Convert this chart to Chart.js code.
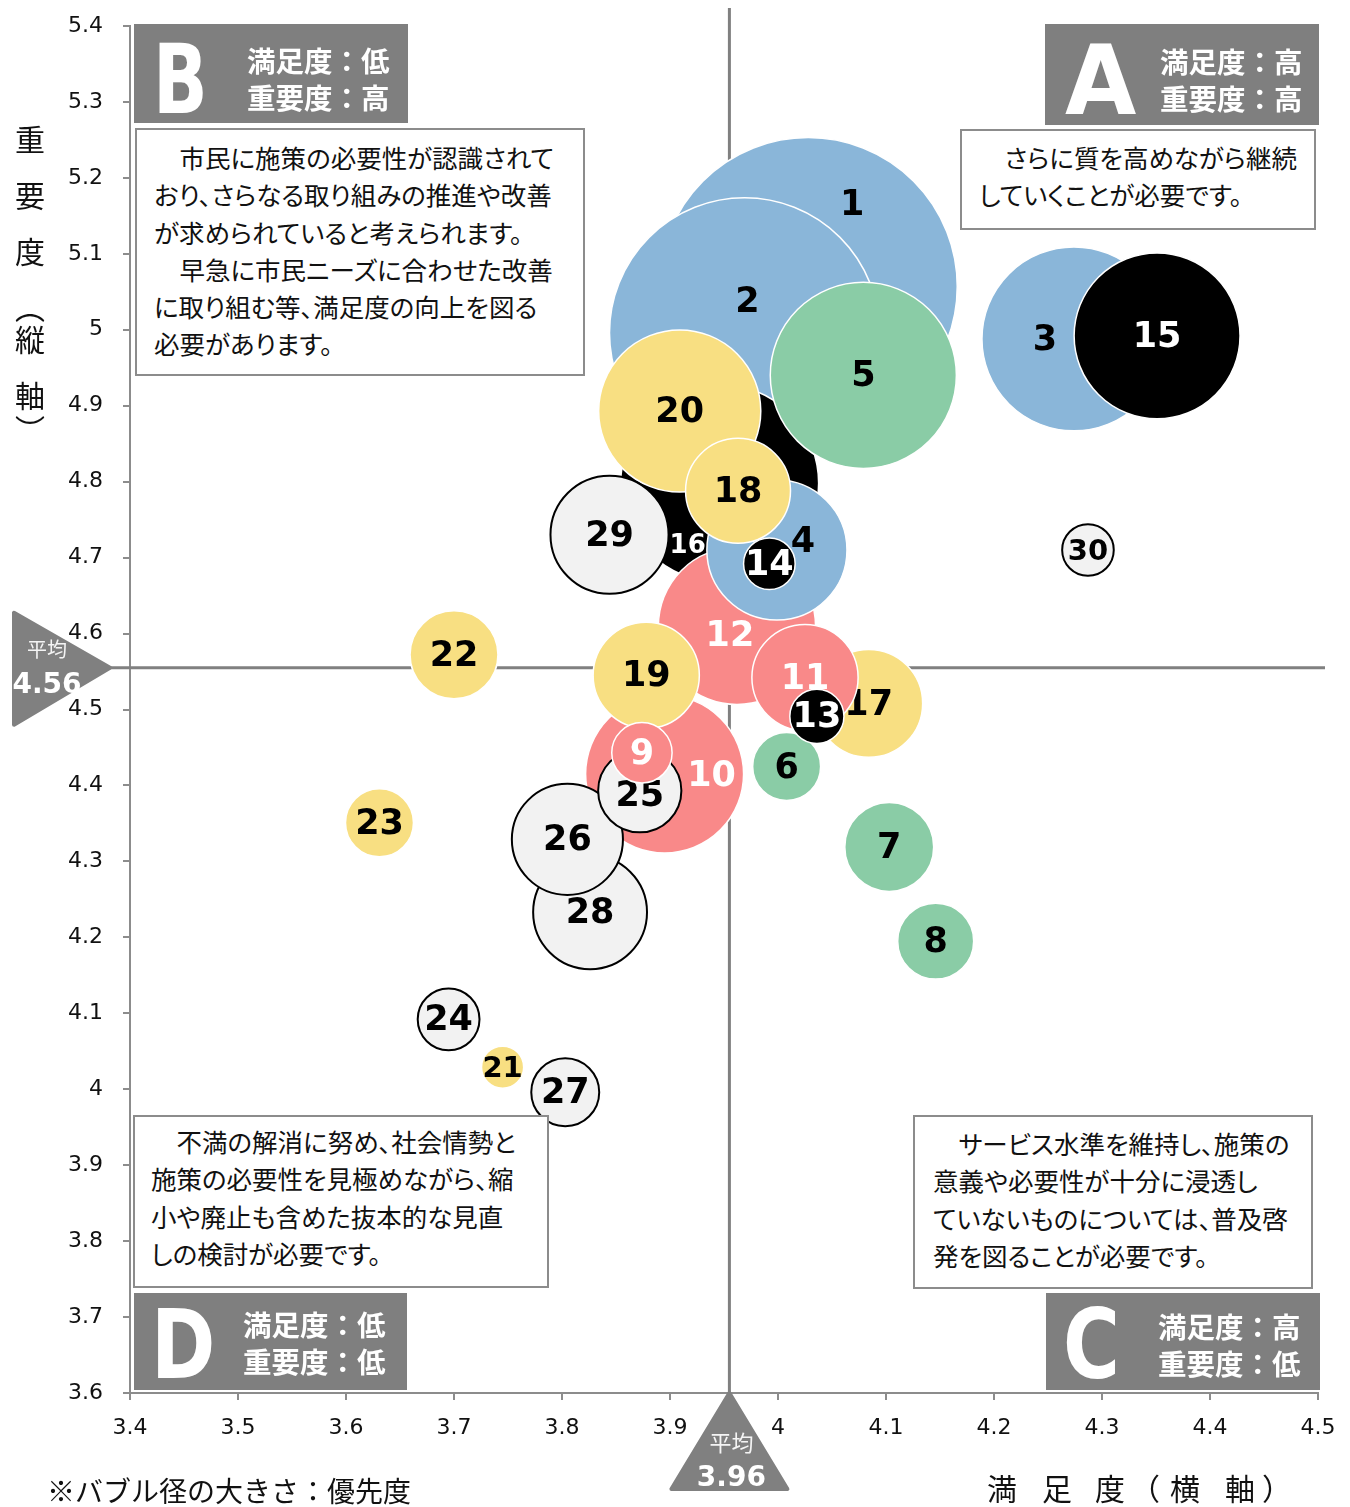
<!DOCTYPE html>
<html lang="ja">
<head>
<meta charset="utf-8">
<title>満足度・重要度バブルチャート</title>
<script src="https://cdn.jsdelivr.net/npm/chart.js@4.4.1/dist/chart.umd.min.js"></script>
<style>
  html, body { margin: 0; padding: 0; background: #fff; }
  #wrap { position: relative; width: 1350px; height: 1507px; overflow: hidden; }
  #chart { position: absolute; left: 0; top: 0; }
  .hdr { position: absolute; background: #7f7f7f; color: #fff; box-sizing: border-box; }
  .hdr .big { position: absolute; font: bold 97px "DejaVu Sans"; line-height: 1; transform-origin: left top; }
  .hdr .lines { position: absolute; font: bold 28.5px "Noto Sans CJK JP"; line-height: 36.5px; white-space: pre; }
  .note { position: absolute; box-sizing: border-box; background: #fff; border: 2px solid #8c8c8c;
          font: 25.5px "Noto Sans CJK JP"; line-height: 37.3px; white-space: pre; color: #111;
          font-feature-settings: "palt"; }
  .ttl { position: absolute; font: 30px "Noto Sans CJK JP"; color: #111; line-height: 1; }
  .foot { position: absolute; left: 47px; top: 1476px; font: 28px "Noto Sans CJK JP"; color: #111; line-height: 1; }
</style>
</head>
<body>
<div id="wrap">
  <canvas id="chart" width="1350" height="1507"></canvas>

  <!-- quadrant headers -->
  <div class="hdr" style="left:134px;top:24px;width:274px;height:99px">
    <div class="big" style="left:19px;top:7px;transform:scaleX(0.74)">B</div>
    <div class="lines" style="left:113px;top:18px">満足度：低
重要度：高</div>
  </div>
  <div class="hdr" style="left:1045px;top:24px;width:274px;height:101px">
    <div class="big" style="left:20px;top:8px;transform:scaleX(0.95)">A</div>
    <div class="lines" style="left:115px;top:19px">満足度：高
重要度：高</div>
  </div>
  <div class="hdr" style="left:134px;top:1293px;width:273px;height:97px">
    <div class="big" style="left:17px;top:3px;transform:scaleX(0.8)">D</div>
    <div class="lines" style="left:109px;top:13px">満足度：低
重要度：低</div>
  </div>
  <div class="hdr" style="left:1046px;top:1293px;width:274px;height:97px">
    <div class="big" style="left:17px;top:3px;transform:scaleX(0.8)">C</div>
    <div class="lines" style="left:112px;top:15px">満足度：高
重要度：低</div>
  </div>

  <!-- quadrant comments -->
  <div class="note" style="left:135px;top:128px;width:450px;height:248px;padding:8px 0 0 17px">　市民に施策の必要性が認識されて
おり、さらなる取り組みの推進や改善
が求められていると考えられます。
　早急に市民ニーズに合わせた改善
に取り組む等、満足度の向上を図る
必要があります。</div>
  <div class="note" style="left:960px;top:129px;width:356px;height:101px;padding:7px 0 0 17px">　さらに質を高めながら継続
していくことが必要です。</div>
  <div class="note" style="left:133px;top:1115px;width:416px;height:173px;padding:5px 0 0 16px">　不満の解消に努め、社会情勢と
施策の必要性を見極めながら、縮
小や廃止も含めた抜本的な見直
しの検討が必要です。</div>
  <div class="note" style="left:913px;top:1115px;width:400px;height:174px;padding:7px 0 0 18px">　サービス水準を維持し、施策の
意義や必要性が十分に浸透し
ていないものについては、普及啓
発を図ることが必要です。</div>

  <!-- axis titles -->
  <div class="ttl" style="left:15px;top:123px">重</div>
  <div class="ttl" style="left:15px;top:179px">要</div>
  <div class="ttl" style="left:15px;top:235px">度</div>
  <div class="ttl" style="left:15px;top:291px">︵</div>
  <div class="ttl" style="left:15px;top:323px">縦</div>
  <div class="ttl" style="left:15px;top:379px">軸</div>
  <div class="ttl" style="left:15px;top:413px">︶</div>

  <div class="ttl" style="left:987px;top:1472px">満</div>
  <div class="ttl" style="left:1042px;top:1472px">足</div>
  <div class="ttl" style="left:1095px;top:1472px">度</div>
  <div class="ttl" style="left:1130px;top:1472px">（</div>
  <div class="ttl" style="left:1170px;top:1472px">横</div>
  <div class="ttl" style="left:1225px;top:1472px">軸</div>
  <div class="ttl" style="left:1262px;top:1472px">）</div>

  <div class="foot">※バブル径の大きさ：優先度</div>
</div>

<script>
// 施策番号・満足度（横軸）・重要度（縦軸）・優先度（バブル径）
const ids = [1, 2, 3, 4, 5, 6, 7, 8, 9, 10, 11, 12, 13, 14, 15,
             16, 17, 18, 19, 20, 21, 22, 23, 24, 25, 26, 27, 28, 29, 30];
const satisfaction = [4.028, 3.969, 4.274, 3.999, 4.079, 4.008, 4.103, 4.146, 3.874, 3.895,
                      4.025, 3.962, 4.036, 3.992, 4.351, 3.946, 4.084, 3.963, 3.878, 3.909,
                      3.745, 3.700, 3.631, 3.695, 3.872, 3.805, 3.803, 3.826, 3.844, 4.287];
const importance = [5.057, 4.996, 4.988, 4.710, 4.940, 4.425, 4.319, 4.195, 4.443, 4.415,
                    4.542, 4.610, 4.491, 4.692, 4.992, 4.798, 4.508, 4.788, 4.545, 4.893,
                    4.029, 4.572, 4.351, 4.092, 4.393, 4.329, 3.996, 4.233, 4.730, 4.710];
const priority = [100, 82.1, 38.1, 22.1, 39.0, 5.2, 8.9, 6.5, 4.1, 28.1,
                  12.7, 27.8, 3.3, 3.0, 31.0, 44.1, 13.1, 12.4, 12.7, 29.6,
                  2.0, 8.7, 5.2, 4.3, 7.8, 13.9, 5.2, 14.6, 15.7, 3.0];
const groups = ['blue', 'blue', 'blue', 'blue', 'green', 'green', 'green', 'green',
                'red', 'red', 'red', 'red', 'black', 'black', 'black', 'black',
                'yellow', 'yellow', 'yellow', 'yellow', 'yellow', 'yellow', 'yellow',
                'grey', 'grey', 'grey', 'grey', 'grey', 'grey', 'grey'];

// 平均値
const AVG_X = 3.955;
const AVG_Y = 4.555;

const X_MIN = 3.4, X_MAX = 4.5, Y_MIN = 3.6, Y_MAX = 5.4, STEP = 0.1;

// group styles
const fills = { blue: '#8ab6d9', green: '#8acca6', red: '#f98989', black: '#000000', yellow: '#f8df82', grey: '#f2f2f2' };
const edges = { blue: '#ffffff', green: '#ffffff', red: '#ffffff', black: '#ffffff', yellow: '#ffffff', grey: '#000000' };
const textColors = { blue: '#000', green: '#000', red: '#fff', black: '#fff', yellow: '#000', grey: '#000' };

// labels nudged off centre where other bubbles sit on top
const labelShift = { 1: [44, -83], 2: [3, -32], 3: [-29, 0], 4: [26, -9], 10: [47, 1],
                     12: [-7, 9], 16: [-32, 61], 25: [0, 4] };
const labelSize = { 16: 26, 21: 29, 30: 29 };

const MAX_R = 149;
const maxPri = Math.max(...priority);
const radiusOf = p => MAX_R * Math.sqrt(p / maxPri);

// one dataset per bubble so larger ones sit underneath (higher order = drawn first)
const datasets = ids.map((id, i) => {
  const r = radiusOf(priority[i]);
  return {
    label: String(id),
    data: [{ x: satisfaction[i], y: importance[i], r: r }],
    backgroundColor: fills[groups[i]],
    borderColor: edges[groups[i]],
    borderWidth: groups[i] === 'grey' ? 2 : 1.5,
    order: r,
    clip: false
  };
});

const fmt = v => String(Math.round(v * 10) / 10);
const fmt2 = v => (Math.round(v * 100 + 1e-6) / 100).toFixed(2);

const bubbleLabels = {
  id: 'bubbleLabels',
  afterDatasetDraw(chart, args) {
    const i = args.index;
    const id = ids[i];
    const el = args.meta.data[0];
    const sh = labelShift[id] || [0, 0];
    const ctx = chart.ctx;
    ctx.save();
    ctx.font = 'bold ' + (labelSize[id] || 35) + 'px "DejaVu Sans"';
    ctx.fillStyle = textColors[groups[i]];
    ctx.textAlign = 'center';
    ctx.textBaseline = 'middle';
    ctx.fillText(String(id), el.x + sh[0], el.y + sh[1] + 2);
    ctx.restore();
  }
};

const averageMarks = {
  id: 'averageMarks',
  beforeDatasetsDraw(chart) {
    const { ctx, chartArea, scales } = chart;
    const ax = scales.x.getPixelForValue(AVG_X);
    const ay = scales.y.getPixelForValue(AVG_Y);
    ctx.save();
    ctx.strokeStyle = '#808080';
    ctx.lineWidth = 3;
    ctx.beginPath();
    ctx.moveTo(ax, 8);
    ctx.lineTo(ax, chartArea.bottom);
    ctx.moveTo(110, ay);
    ctx.lineTo(chartArea.right + 7, ay);
    ctx.stroke();
    ctx.restore();
  },
  afterDraw(chart) {
    const { ctx, chartArea, scales } = chart;
    const ax = scales.x.getPixelForValue(AVG_X);
    const ay = scales.y.getPixelForValue(AVG_Y);
    ctx.save();
    ctx.fillStyle = '#808080';
    ctx.strokeStyle = '#808080';
    ctx.lineWidth = 4;
    ctx.lineJoin = 'round';
    // left marker (importance average)
    ctx.beginPath();
    ctx.moveTo(110, ay);
    ctx.lineTo(14, ay - 55);
    ctx.lineTo(14, ay + 57);
    ctx.closePath();
    ctx.fill();
    ctx.stroke();
    // bottom marker (satisfaction average)
    const b = chartArea.bottom;
    ctx.beginPath();
    ctx.moveTo(ax, b);
    ctx.lineTo(ax + 58, b + 96);
    ctx.lineTo(ax - 58, b + 96);
    ctx.closePath();
    ctx.fill();
    ctx.stroke();

    ctx.fillStyle = '#f4f4f4';
    ctx.textAlign = 'center';
    ctx.textBaseline = 'middle';
    ctx.font = '20px "Noto Sans CJK JP"';
    ctx.fillText('平均', 47, ay - 18);
    ctx.font = '22px "Noto Sans CJK JP"';
    ctx.fillText('平均', ax + 2, b + 50);
    ctx.fillStyle = '#ffffff';
    ctx.font = 'bold 28px "DejaVu Sans"';
    ctx.fillText(fmt2(AVG_Y), 47, ay + 18);
    ctx.fillText(fmt2(AVG_X), ax + 2, b + 86);
    ctx.restore();
  }
};

const tickFont = { family: '"DejaVu Sans"', size: 22 };

new Chart(document.getElementById('chart'), {
  type: 'bubble',
  data: { datasets: datasets },
  plugins: [averageMarks, bubbleLabels],
  options: {
    responsive: false,
    devicePixelRatio: 1,
    animation: false,
    events: [],
    layout: { autoPadding: false, padding: { top: 26, right: 32, left: 0, bottom: 0 } },
    plugins: { legend: { display: false }, tooltip: { enabled: false } },
    scales: {
      x: {
        type: 'linear',
        min: X_MIN,
        max: X_MAX,
        afterFit: s => { s.height = 114; s.paddingLeft = 0; s.paddingRight = 0; },
        ticks: { stepSize: STEP, padding: 15, color: '#111', font: tickFont, callback: v => fmt(v), maxRotation: 0 },
        grid: { drawOnChartArea: false, drawTicks: true, tickLength: 7, color: '#8c8c8c', lineWidth: 2 },
        border: { color: '#8c8c8c', width: 2 }
      },
      y: {
        type: 'linear',
        min: Y_MIN,
        max: Y_MAX,
        afterFit: s => { s.width = 130; s.paddingTop = 0; s.paddingBottom = 0; },
        ticks: { stepSize: STEP, padding: 20, color: '#111', font: tickFont, callback: v => fmt(v) },
        grid: { drawOnChartArea: false, drawTicks: true, tickLength: 7, color: '#8c8c8c', lineWidth: 2 },
        border: { color: '#8c8c8c', width: 2 }
      }
    }
  }
});
</script>
</body>
</html>
